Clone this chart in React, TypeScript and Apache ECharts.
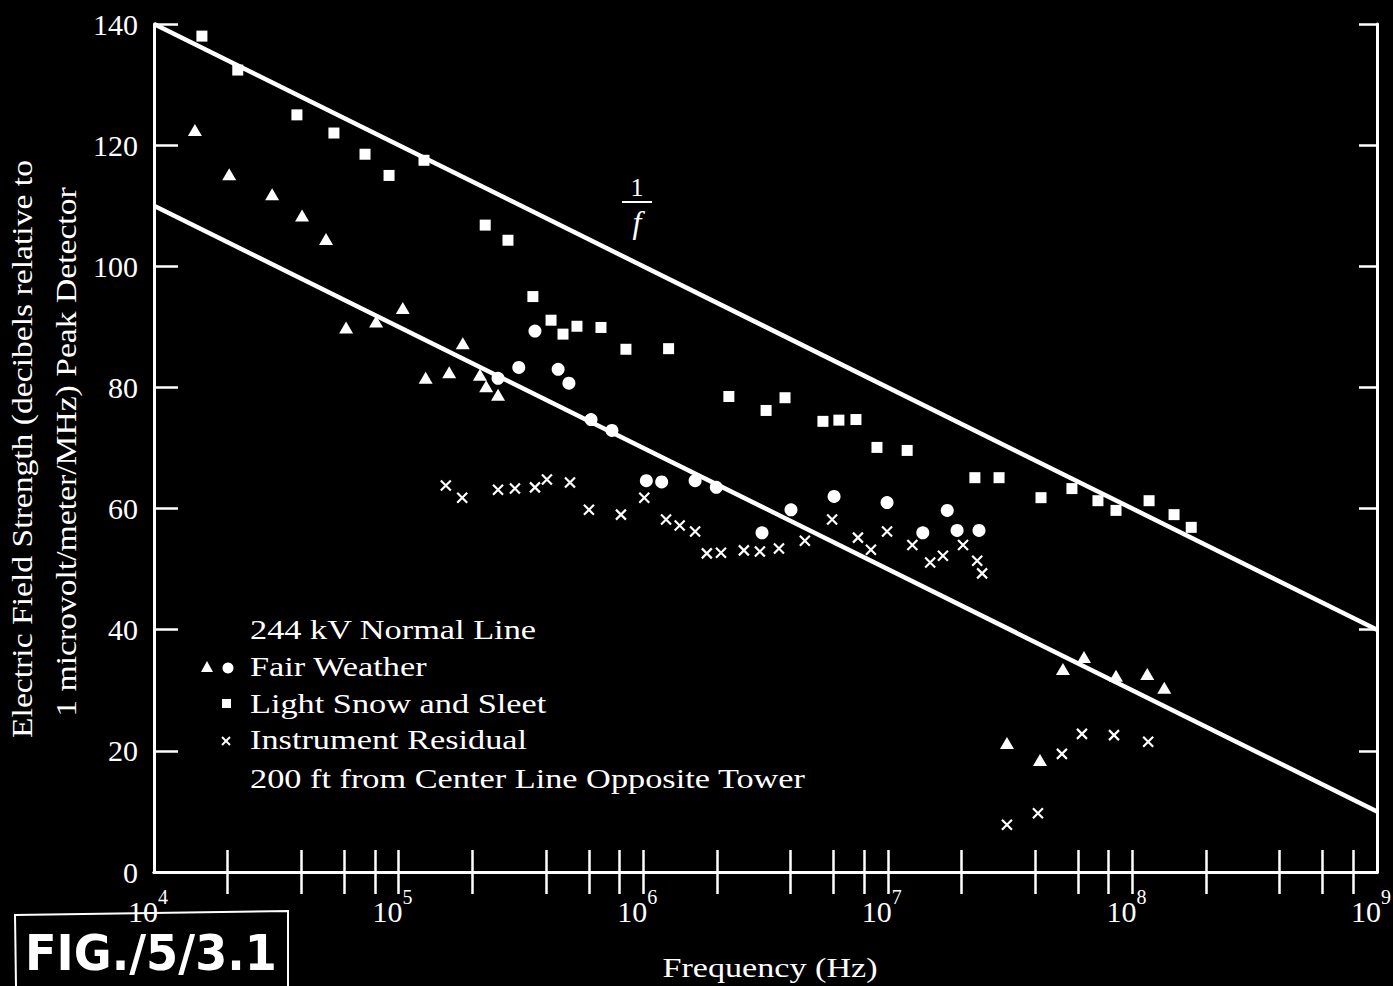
import React, { useEffect, useRef } from "react";
import * as echarts from "echarts";

const FONT = '"Liberation Serif", "Times New Roman", Times, serif';
const WHITE = "#ffffff";

// ---- axes ----
const xMajorTicks = [1e4, 1e5, 1e6, 1e7, 1e8, 1e9];
const xMinorTicks = [
  2e4, 4e4, 6e4, 8e4, 1e5,
  2e5, 4e5, 6e5, 8e5, 1e6,
  2e6, 4e6, 6e6, 8e6, 1e7,
  2e7, 4e7, 6e7, 8e7, 1e8,
  2e8, 4e8, 6e8, 8e8,
];
const yMin = 0;
const yMax = 140;
const yStep = 20;

// ---- 1/f reference lines ----
const refFreq = [1e4, 1e9];
const upperDb = [140, 40];
const lowerDb = [110, 10];

// ---- Light Snow and Sleet (squares) ----
const snowFreq = [1.57e4, 2.2e4, 3.84e4, 5.44e4, 7.29e4, 9.14e4, 1.27e5, 2.26e5, 2.8e5, 3.54e5, 4.2e5, 4.7e5, 5.36e5, 6.72e5, 8.5e5, 1.27e6, 2.24e6, 3.18e6, 3.8e6, 5.43e6, 6.31e6, 7.41e6, 9.03e6, 1.2e7, 2.27e7, 2.85e7, 4.23e7, 5.66e7, 7.23e7, 8.57e7, 1.17e8, 1.48e8, 1.74e8];
const snowDb = [138, 132.4, 125, 122, 118.5, 115, 117.5, 106.8, 104.3, 95, 91.1, 88.8, 90.1, 89.9, 86.3, 86.4, 78.5, 76.2, 78.3, 74.4, 74.6, 74.7, 70.1, 69.6, 65.1, 65.1, 61.8, 63.3, 61.3, 59.7, 61.3, 59.0, 56.9];

// ---- Fair Weather (triangles) ----
const fairTriFreq = [1.47e4, 2.03e4, 3.04e4, 4.03e4, 5.05e4, 6.1e4, 8.09e4, 1.04e5, 1.29e5, 1.61e5, 1.83e5, 2.15e5, 2.28e5, 2.55e5, 3.07e7, 4.19e7, 5.2e7, 6.34e7, 8.57e7, 1.15e8, 1.35e8];
const fairTriDb = [122.5, 115.2, 111.9, 108.4, 104.5, 89.9, 90.9, 93.1, 81.6, 82.5, 87.3, 82.1, 80.2, 78.8, 21.3, 18.5, 33.5, 35.5, 32.4, 32.7, 30.4];

// ---- Fair Weather (circles) ----
const fairDotFreq = [2.55e5, 3.1e5, 3.61e5, 4.49e5, 4.97e5, 6.12e5, 7.45e5, 1.03e6, 1.19e6, 1.63e6, 1.99e6, 3.06e6, 4.02e6, 6.03e6, 9.93e6, 1.39e7, 1.75e7, 1.92e7, 2.36e7];
const fairDotDb = [81.5, 83.3, 89.3, 83.0, 80.7, 74.7, 72.9, 64.6, 64.4, 64.6, 63.5, 56.0, 59.8, 62.0, 61.0, 56.0, 59.7, 56.4, 56.4];

// ---- Instrument Residual (crosses) ----
const residFreq = [1.56e5, 1.82e5, 2.55e5, 2.99e5, 3.61e5, 4.04e5, 5.02e5, 6.0e5, 8.11e5, 1.01e6, 1.24e6, 1.41e6, 1.63e6, 1.82e6, 2.08e6, 2.58e6, 3.0e6, 3.59e6, 4.58e6, 5.92e6, 7.55e6, 8.53e6, 9.93e6, 1.26e7, 1.49e7, 1.68e7, 2.03e7, 2.32e7, 2.43e7, 3.07e7, 4.11e7, 5.15e7, 6.22e7, 8.41e7, 1.16e8];
const residDb = [63.8, 61.8, 63.1, 63.3, 63.5, 64.8, 64.3, 59.8, 59.0, 61.8, 58.2, 57.2, 56.2, 52.6, 52.7, 53.1, 52.9, 53.4, 54.7, 58.2, 55.2, 53.2, 56.2, 54.0, 51.1, 52.2, 54.0, 51.4, 49.3, 7.8, 9.7, 19.5, 22.8, 22.6, 21.5];

// ---- texts ----
const yTitle1 = "Electric Field Strength (decibels relative to";
const yTitle2 = "1 microvolt/meter/MHz) Peak Detector";
const xTitle = "Frequency (Hz)";
const legendLines = [
  "244 kV Normal Line",
  "Fair Weather",
  "Light Snow and Sleet",
  "Instrument Residual",
  "200 ft from Center Line Opposite Tower",
];
const figNote = "FIG./5/3.1";

const zip = (xs: number[], ys: number[]) => xs.map((x, i) => [x, ys[i]]);

const CROSS = "path://M0,0L10,10M10,0L0,10";

export default function App() {
  const ref = useRef<HTMLDivElement>(null);

  useEffect(() => {
    if (!ref.current) return;
    const chart = echarts.init(ref.current, null, { renderer: "svg" });

    const axisLine = { show: true, lineStyle: { color: WHITE, width: 3 } };
    const tickStyle = { color: WHITE, width: 2.5 };

    const legendText = (text: string, y: number) => ({
      type: "text",
      x: 250,
      y,
      scaleX: 1.27,
      style: {
        text,
        fill: WHITE,
        fontSize: 27,
        fontFamily: FONT,
        textAlign: "left",
        align: "left",
        textVerticalAlign: "middle",
        verticalAlign: "middle",
      },
    });

    const option: any = {
      animation: false,
      backgroundColor: "#000000",
      grid: {
        left: 154,
        right: 16,
        top: 24,
        bottom: 114,
        containLabel: false,
        outerBoundsMode: "none",
      },
      xAxis: [
        {
          type: "log",
          logBase: 10,
          min: xMajorTicks[0],
          max: xMajorTicks[xMajorTicks.length - 1],
          position: "bottom",
          axisLine,
          axisTick: {
            show: true,
            inside: true,
            length: 22,
            lineStyle: tickStyle,
            customValues: xMinorTicks,
          },
          minorTick: { show: false },
          splitLine: { show: false },
          axisLabel: {
            show: true,
            customValues: xMajorTicks,
            margin: 24,
            color: WHITE,
            formatter: (v: number) => `{b|10}{s|${Math.round(Math.log10(v))}}`,
            rich: {
              b: {
                fontSize: 30,
                lineHeight: 30,
                fontFamily: FONT,
                color: WHITE,
              },
              s: {
                fontSize: 20,
                lineHeight: 20,
                fontFamily: FONT,
                color: WHITE,
                padding: [0, 12, 28, 0],
              },
            },
          },
        },
        {
          type: "log",
          logBase: 10,
          min: xMajorTicks[0],
          max: xMajorTicks[xMajorTicks.length - 1],
          position: "top",
          axisLine,
          axisTick: {
            show: true,
            inside: true,
            length: 22,
            lineStyle: tickStyle,
            customValues: xMinorTicks,
          },
          splitLine: { show: false },
          axisLabel: { show: false },
        },
      ],
      yAxis: [
        {
          type: "value",
          min: yMin,
          max: yMax,
          interval: yStep,
          position: "left",
          axisLine,
          axisTick: { show: true, inside: true, length: 24, lineStyle: tickStyle },
          splitLine: { show: false },
          axisLabel: {
            color: WHITE,
            fontSize: 30,
            fontFamily: FONT,
            margin: 16,
          },
        },
        {
          type: "value",
          min: yMin,
          max: yMax,
          interval: yStep,
          position: "right",
          axisLine,
          axisTick: { show: true, inside: true, length: 18, lineStyle: tickStyle },
          splitLine: { show: false },
          axisLabel: { show: false },
        },
      ],
      series: [
        {
          name: "1/f upper",
          type: "line",
          data: zip(refFreq, upperDb),
          showSymbol: false,
          symbol: "none",
          lineStyle: { color: WHITE, width: 4.5 },
          z: 2,
        },
        {
          name: "1/f lower",
          type: "line",
          data: zip(refFreq, lowerDb),
          showSymbol: false,
          symbol: "none",
          lineStyle: { color: WHITE, width: 4.5 },
          z: 2,
        },
        {
          name: "Light Snow and Sleet",
          type: "scatter",
          data: zip(snowFreq, snowDb),
          symbol: "rect",
          symbolSize: 11,
          itemStyle: { color: WHITE, opacity: 1 },
          z: 3,
        },
        {
          name: "Fair Weather (triangle)",
          type: "scatter",
          data: zip(fairTriFreq, fairTriDb),
          symbol: "triangle",
          symbolSize: [14, 12],
          itemStyle: { color: WHITE, opacity: 1 },
          z: 3,
        },
        {
          name: "Fair Weather (circle)",
          type: "scatter",
          data: zip(fairDotFreq, fairDotDb),
          symbol: "circle",
          symbolSize: 13,
          itemStyle: { color: WHITE, opacity: 1 },
          z: 3,
        },
        {
          name: "Instrument Residual",
          type: "scatter",
          data: zip(residFreq, residDb),
          symbol: CROSS,
          symbolSize: 10,
          itemStyle: { color: "rgba(0,0,0,0)", borderColor: WHITE, borderWidth: 2.2, opacity: 1 },
          z: 3,
        },
      ],
      graphic: [
        {
          type: "text",
          x: 22,
          y: 449,
          rotation: Math.PI / 2,
          scaleX: 1.16,
          style: {
            text: yTitle1,
            fill: WHITE,
            fontSize: 29,
            fontFamily: FONT,
            textAlign: "center",
            align: "center",
            textVerticalAlign: "middle",
            verticalAlign: "middle",
          },
        },
        {
          type: "text",
          x: 66,
          y: 452,
          rotation: Math.PI / 2,
          scaleX: 1.16,
          style: {
            text: yTitle2,
            fill: WHITE,
            fontSize: 29,
            fontFamily: FONT,
            textAlign: "center",
            align: "center",
            textVerticalAlign: "middle",
            verticalAlign: "middle",
          },
        },
        {
          type: "text",
          x: 770,
          y: 968,
          scaleX: 1.22,
          style: {
            text: xTitle,
            fill: WHITE,
            fontSize: 28,
            fontFamily: FONT,
            textAlign: "center",
            align: "center",
            textVerticalAlign: "middle",
            verticalAlign: "middle",
          },
        },
        // 1/f label
        {
          type: "text",
          x: 637,
          y: 187,
          style: {
            text: "1",
            fill: WHITE,
            fontSize: 26,
            fontFamily: FONT,
            textAlign: "center",
            align: "center",
            textVerticalAlign: "middle",
            verticalAlign: "middle",
          },
        },
        {
          type: "line",
          shape: { x1: 622, y1: 202, x2: 652, y2: 202 },
          style: { stroke: WHITE, lineWidth: 2 },
        },
        {
          type: "text",
          x: 637,
          y: 222,
          style: {
            text: "f",
            fill: WHITE,
            fontSize: 32,
            fontStyle: "italic",
            fontFamily: FONT,
            textAlign: "center",
            align: "center",
            textVerticalAlign: "middle",
            verticalAlign: "middle",
          },
        },
        // legend
        legendText(legendLines[0], 630),
        legendText(legendLines[1], 667),
        legendText(legendLines[2], 704),
        legendText(legendLines[3], 740),
        legendText(legendLines[4], 779),
        {
          type: "polygon",
          shape: { points: [[207, 661], [213, 672], [201, 672]] },
          style: { fill: WHITE },
        },
        {
          type: "circle",
          shape: { cx: 228, cy: 668, r: 5.5 },
          style: { fill: WHITE },
        },
        {
          type: "rect",
          shape: { x: 222, y: 699, width: 9, height: 9 },
          style: { fill: WHITE },
        },
        {
          type: "line",
          shape: { x1: 222, y1: 737, x2: 230, y2: 745 },
          style: { stroke: WHITE, lineWidth: 2 },
        },
        {
          type: "line",
          shape: { x1: 230, y1: 737, x2: 222, y2: 745 },
          style: { stroke: WHITE, lineWidth: 2 },
        },
        // handwritten figure note box
        {
          type: "polyline",
          shape: { points: [[16, 986], [15, 915], [288, 911], [288, 986]] },
          style: { stroke: WHITE, lineWidth: 2, fill: "none" },
        },
        {
          type: "text",
          x: 151,
          y: 952,
          scaleX: 1.05,
          scaleY: 1.15,
          style: {
            text: figNote,
            fill: WHITE,
            fontSize: 44,
            fontWeight: "bold",
            fontFamily: '"DejaVu Sans", sans-serif',
            textAlign: "center",
            align: "center",
            textVerticalAlign: "middle",
            verticalAlign: "middle",
          },
        },
      ],
    };

    chart.setOption(option);
    return () => chart.dispose();
  }, []);

  return (
    <div
      ref={ref}
      style={{
        position: "fixed",
        left: 0,
        top: 0,
        width: 1393,
        height: 986,
        background: "#000",
      }}
    />
  );
}
